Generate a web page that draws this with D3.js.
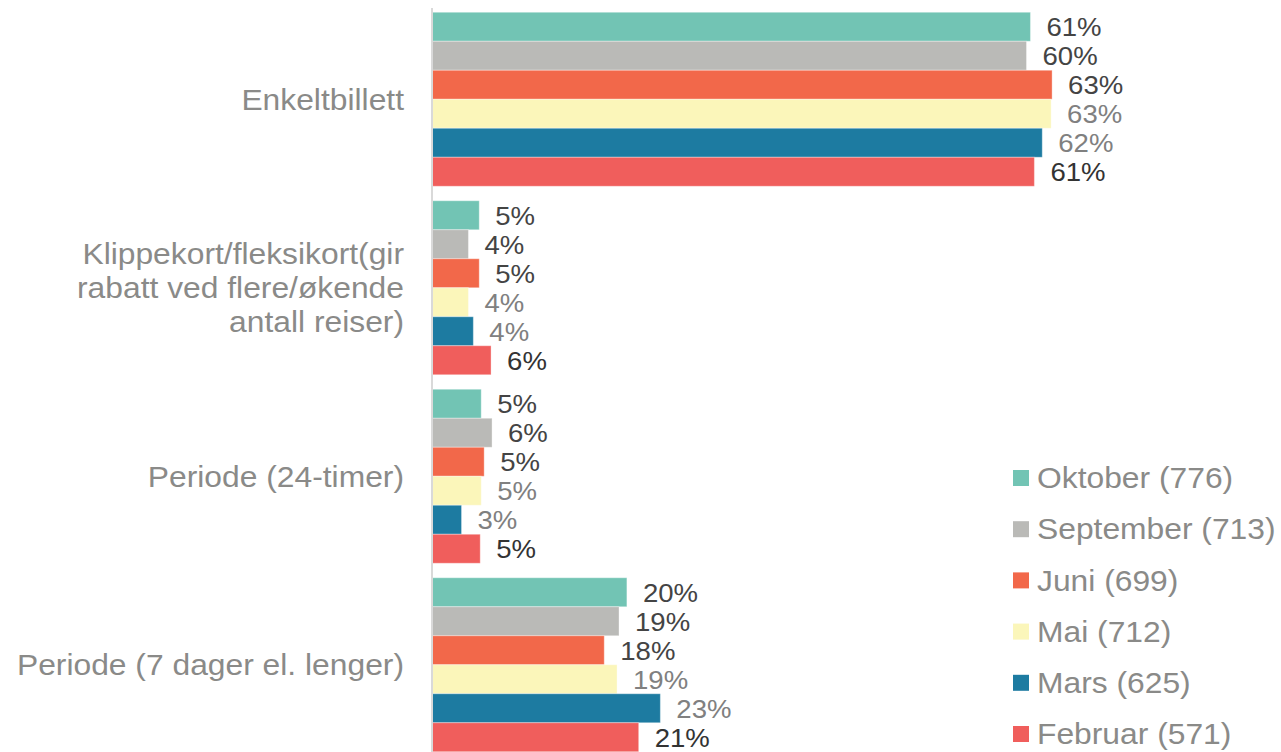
<!DOCTYPE html>
<html>
<head>
<meta charset="utf-8">
<script src="https://cdn.jsdelivr.net/npm/d3@7"></script>
<style>
  html, body { margin: 0; padding: 0; background: #fff; }
  svg { display: block; font-family: "Liberation Sans", Arial, sans-serif; }
</style>
</head>
<body>
<svg id="chart" width="1281" height="752"></svg>
<script>
const categories = [
  ["Enkeltbillett"],
  ["Klippekort/fleksikort(gir", "rabatt ved flere/økende", "antall reiser)"],
  ["Periode (24-timer)"],
  ["Periode (7 dager el. lenger)"]
];
const seriesNames = ["Oktober (776)", "September (713)", "Juni (699)", "Mai (712)", "Mars (625)", "Februar (571)"];
const seriesColors = ["#72c4b4", "#babab7", "#f2684a", "#fbf6ba", "#1d7ba1", "#f05e5c"];
const labelColors = ["#444444", "#444444", "#444444", "#808080", "#808080", "#333333"];

// one array per series, same order as categories
const oktober = [0.608, 0.048, 0.050, 0.198];
const september = [0.604, 0.037, 0.061, 0.190];
const juni = [0.630, 0.048, 0.053, 0.175];
const mai = [0.629, 0.037, 0.050, 0.188];
const mars = [0.620, 0.042, 0.030, 0.232];
const februar = [0.612, 0.060, 0.049, 0.210];
const seriesValues = [oktober, september, juni, mai, mars, februar];

const svg = d3.select("#chart");
const axisX = 432;
const stretch = 1.06; // reference text is slightly wider than Liberation Sans

const x = d3.scaleLinear()
  .domain([0, 0.7])
  .range([axisX, axisX + 689]);

const y = d3.scaleBand()
  .domain(d3.range(categories.length))
  .range([5, 759])
  .paddingInner(14.5 / 188.5)
  .paddingOuter(7.25 / 188.5);

const ySeries = d3.scaleBand()
  .domain(d3.range(seriesNames.length))
  .range([0, y.bandwidth()]);

const formatPct = d3.format(".0%");

// category labels
categories.forEach((lines, ci) => {
  const cy = y(ci) + y.bandwidth() / 2;
  const lh = 34;
  const t = svg.append("text")
    .attr("transform", `translate(404,${cy}) scale(${stretch},1)`)
    .attr("text-anchor", "end")
    .attr("fill", "#8a8a88")
    .attr("font-size", 30);
  lines.forEach((line, li) => {
    t.append("tspan")
      .attr("x", 0)
      .attr("y", (li - (lines.length - 1) / 2) * lh)
      .attr("dy", "0.35em")
      .text(line);
  });
});

// bars
const groups = svg.append("g")
  .selectAll("g")
  .data(categories.map((c, ci) => ci))
  .join("g")
  .attr("transform", (ci) => `translate(0,${y(ci)})`);

groups.selectAll("rect")
  .data((ci) => seriesValues.map((vals, si) => ({ si, v: vals[ci] })))
  .join("rect")
  .attr("x", x(0))
  .attr("y", (d) => ySeries(d.si))
  .attr("width", (d) => x(d.v) - x(0))
  .attr("height", ySeries.bandwidth())
  .attr("fill", (d) => seriesColors[d.si])
  .attr("stroke", "#ffffff")
  .attr("stroke-opacity", 0.35)
  .attr("stroke-width", 1);

groups.selectAll("text")
  .data((ci) => seriesValues.map((vals, si) => ({ si, v: vals[ci] })))
  .join("text")
  .attr("transform", (d) => `translate(${x(d.v) + 16},${ySeries(d.si) + ySeries.bandwidth() / 2}) scale(${stretch},1)`)
  .attr("dy", "0.36em")
  .attr("font-size", 26)
  .attr("fill", (d) => labelColors[d.si])
  .text((d) => formatPct(d.v));

// vertical axis line
svg.append("line")
  .attr("x1", axisX)
  .attr("x2", axisX)
  .attr("y1", 8)
  .attr("y2", 752)
  .attr("stroke", "#d9d9d9")
  .attr("stroke-width", 2);

// legend
const legend = svg.append("g")
  .selectAll("g")
  .data(seriesNames)
  .join("g")
  .attr("transform", (d, i) => `translate(1013,${478 + i * 51.2})`);

legend.append("rect")
  .attr("x", 0)
  .attr("y", -8)
  .attr("width", 16)
  .attr("height", 16)
  .attr("fill", (d, i) => seriesColors[i]);

legend.append("text")
  .attr("transform", `translate(24,0) scale(${stretch},1)`)
  .attr("dy", "0.34em")
  .attr("font-size", 30)
  .attr("fill", "#8a8a88")
  .text((d) => d);
</script>
</body>
</html>
